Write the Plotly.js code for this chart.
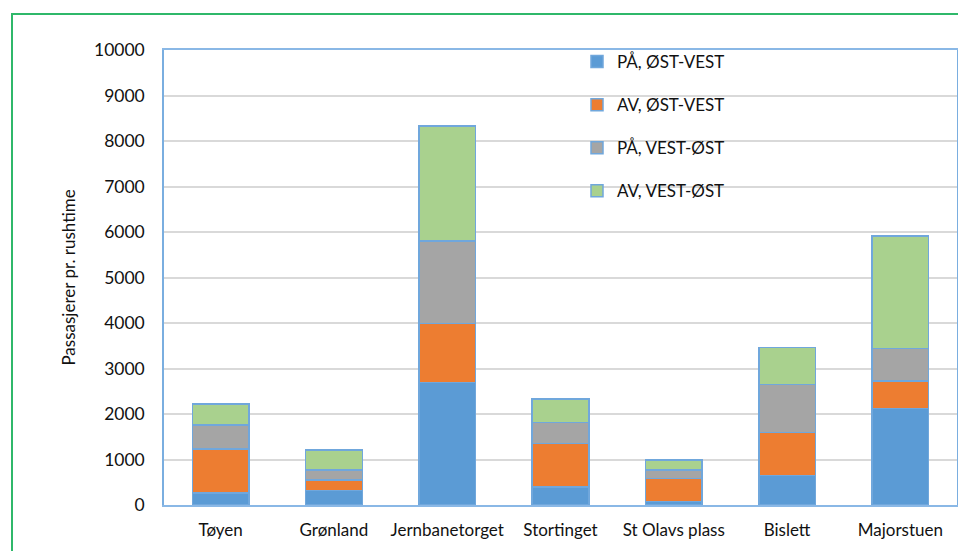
<!DOCTYPE html>
<html>
<head>
<meta charset="utf-8">
<script src="https://cdn.plot.ly/plotly-3.0.1.min.js"></script>
<style>
html,body{margin:0;padding:0;background:#fff;}
#chart{width:958px;height:551px;}
</style>
</head>
<body>
<div id="chart"></div>
<script>
const categories = ["Tøyen", "Grønland", "Jernbanetorget", "Stortinget", "St Olavs plass", "Bislett", "Majorstuen"];
const seriesNames = ["PÅ, ØST-VEST", "AV, ØST-VEST", "PÅ, VEST-ØST", "AV, VEST-ØST"];
const paOstVest = [260, 315, 2690, 400, 75, 645, 2125];
const avOstVest = [970, 235, 1300, 955, 505, 950, 600];
const paVestOst = [530, 220, 1810, 460, 190, 1055, 720];
const avVestOst = [455, 440, 2530, 520, 215, 815, 2470];
const yTicks = [0, 1000, 2000, 3000, 4000, 5000, 6000, 7000, 8000, 9000, 10000];
const yTitle = "Passasjerer pr. rushtime";

const colors = ["#5b9bd5", "#ed7d31", "#a5a5a5", "#a9d18e"];
const allSeries = [paOstVest, avOstVest, paVestOst, avVestOst];
const font = "Lato, 'Open Sans', sans-serif";

const traces = allSeries.map((vals, i) => ({
  type: "bar",
  name: seriesNames[i],
  x: categories,
  y: vals,
  legendgroup: "g" + i,
  marker: {color: colors[i], line: {color: "#70a7dc", width: 1.5}},
  hoverinfo: "x+y+name"
}));

const L = 164, R = 957, T = 50, B = 505, W = 958, H = 551;
const pw = R - L, ph = B - T;
const px = v => (v - L) / pw;
const py = v => (B - v) / ph;

const layout = {
  width: W, height: H,
  margin: {l: L, r: W - R, t: T, b: H - B, pad: 0},
  paper_bgcolor: "#fff",
  plot_bgcolor: "#fff",
  barmode: "stack",
  bargap: 0.5,
  font: {family: font, color: "#111", size: 16},
  showlegend: true,
  legend: {
    x: px(577), y: py(44), xanchor: "left", yanchor: "top",
    bgcolor: "rgba(0,0,0,0)",
    traceorder: "grouped",
    tracegroupgap: 18,
    font: {family: font, size: 17, color: "#111"},
    itemclick: false
  },
  xaxis: {
    type: "category",
    showline: true, linecolor: "#8ab8e6", linewidth: 1.5, mirror: true,
    showgrid: false, zeroline: false,
    ticks: "", ticklabelstandoff: 9,
    tickfont: {family: font, size: 17, color: "#111"}
  },
  yaxis: {
    range: [0, 10000],
    tickvals: yTicks,
    ticktext: yTicks.map(String),
    showline: true, linecolor: "#7aaee0", linewidth: 1.5, mirror: true,
    showgrid: true, gridcolor: "#d9d9d9", gridwidth: 1.5,
    zeroline: false,
    ticks: "", ticklabelstandoff: 14,
    tickfont: {family: font, size: 17.5, color: "#111"},
    title: {text: yTitle, font: {family: font, size: 17, color: "#111"}, standoff: 14}
  },
  shapes: [{
    type: "rect", xref: "paper", yref: "paper",
    x0: px(12), x1: px(990), y0: py(600), y1: py(14),
    line: {color: "#2fb86a", width: 2}, fillcolor: "rgba(0,0,0,0)", layer: "above"
  }]
};

Plotly.newPlot("chart", traces, layout, {displayModeBar: false, staticPlot: false});
</script>
</body>
</html>
